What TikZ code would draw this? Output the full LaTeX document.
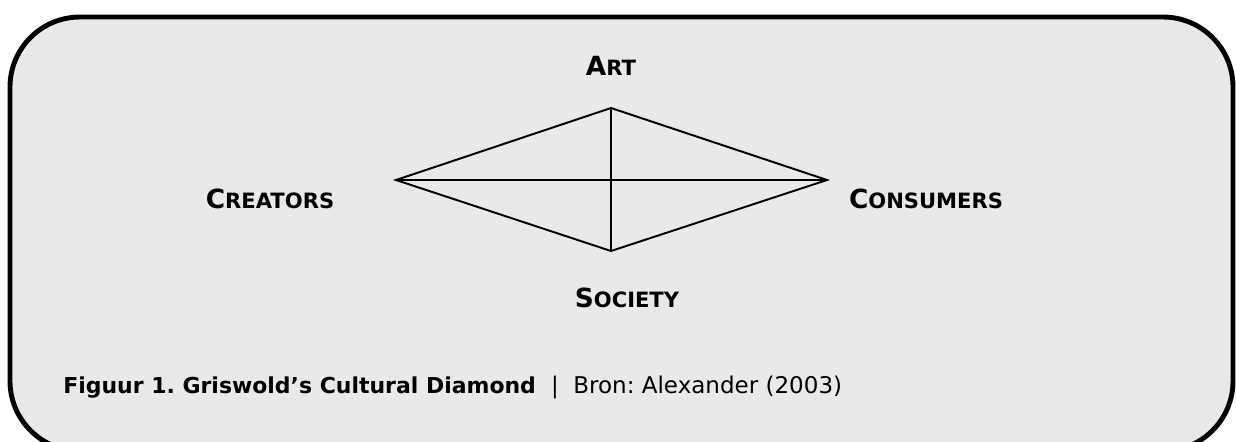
\documentclass[tikz,border=0pt]{standalone}
\usepackage{fontspec}
\setmainfont{DejaVu Sans}
\definecolor{panelgray}{RGB}{233,233,233}
\newcommand{\capsword}[2]{{\bfseries\fontsize{15}{18}\selectfont #1\fontsize{12}{15}\selectfont #2}}
\tikzset{
  panel/.style={draw=black,fill=panelgray,line width=2.8pt,rounded corners=1.4cm},
  edge/.style={line width=1.1pt},
  corner/.style={inner sep=0pt,anchor=base},
  caption/.style={inner sep=0pt,anchor=base west,font=\frenchspacing}
}
\begin{document}
\begin{tikzpicture}[x=0.02cm,y=-0.02cm]
\useasboundingbox (0,0) rectangle (1236,441);
\draw[panel] (10,17) rectangle (1233,451);
% diamond corners
\coordinate (top) at (611,108);
\coordinate (bot) at (611,251);
\coordinate (lft) at (396,180);
\coordinate (rgt) at (827,180);
\draw[edge] (lft)--(top)--(rgt)--(bot)--cycle;
\draw[edge] (lft)--(rgt);
\draw[edge] (top)--(bot);
% labels
\node[corner] (art) at (611,75) {\capsword{A}{RT}};
\node[corner] (creators) at (270,208) {\capsword{C}{REATORS}};
\node[corner] (consumers) at (926,208) {\capsword{C}{ONSUMERS}};
\node[corner] (society) at (627,307) {\capsword{S}{OCIETY}};
% caption
\node[caption] (figtitle) at (63,393)
  {\fontsize{12.5}{15}\selectfont\bfseries Figuur 1. Griswold’s Cultural Diamond};
\node[caption,anchor=base] (bar) at (555,393) {\fontsize{13}{15}\selectfont |};
\node[caption] (source) at (573,393)
  {\fontsize{13.1}{15}\selectfont Bron: Alexander (2003)};
\end{tikzpicture}
\end{document}
